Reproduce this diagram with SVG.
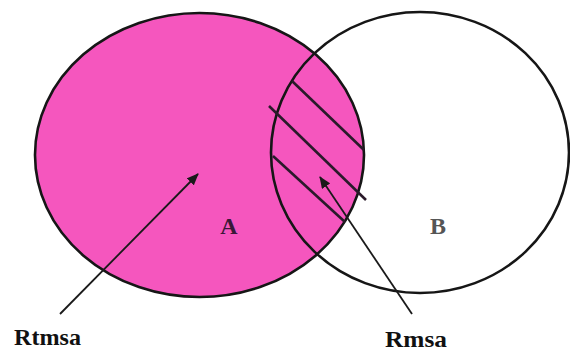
<svg xmlns="http://www.w3.org/2000/svg" width="570" height="354" viewBox="0 0 570 354">
  <defs>
    <style>
      .outline { fill: none; stroke: #161616; stroke-width: 2.6; }
      .hatch { stroke: #2a1a2a; stroke-width: 2.6; stroke-linecap: butt; }
      .conn { stroke: #1a1a1a; stroke-width: 1.8; fill: none; }
      .setlabel { font-family: "Liberation Serif", "Times New Roman", serif; font-weight: bold; font-size: 24px; }
      .label { font-family: "Liberation Serif", "Times New Roman", serif; font-weight: bold; font-size: 23px; fill: #111; }
    </style>
    <marker id="arrow" viewBox="0 0 12 10" refX="11" refY="5" markerWidth="12" markerHeight="10" markerUnits="userSpaceOnUse" orient="auto">
      <path d="M0,0 L12,5 L0,10 Z" fill="#1a1a1a"/>
    </marker>
  </defs>
  <rect width="570" height="354" fill="#ffffff"/>

  <g id="nodeA">
    <ellipse cx="199.5" cy="155" rx="164.5" ry="142" fill="#F556BE" stroke="#161616" stroke-width="2.6"/>
    <text class="setlabel" x="229" y="234" text-anchor="middle" fill="#3a1838">A</text>
  </g>

  <g id="nodeB">
    <ellipse class="outline" cx="420" cy="152.5" rx="149" ry="140.5"/>
    <text class="setlabel" x="438" y="234" text-anchor="middle" fill="#555555">B</text>
  </g>

  <g id="intersection-hatch">
    <line class="hatch" x1="292" y1="81" x2="364" y2="150"/>
    <line class="hatch" x1="269" y1="106" x2="366" y2="200"/>
    <line class="hatch" x1="273" y1="156" x2="345" y2="222"/>
  </g>

  <g id="connectors">
    <line class="conn" x1="60" y1="314" x2="198" y2="174" marker-end="url(#arrow)"/>
    <line class="conn" x1="412" y1="314" x2="320" y2="177" marker-end="url(#arrow)"/>
  </g>

  <g id="labels">
    <text class="label" x="14" y="345" textLength="67" lengthAdjust="spacingAndGlyphs">Rtmsa</text>
    <text class="label" x="385" y="347" textLength="62" lengthAdjust="spacingAndGlyphs">Rmsa</text>
  </g>
</svg>
